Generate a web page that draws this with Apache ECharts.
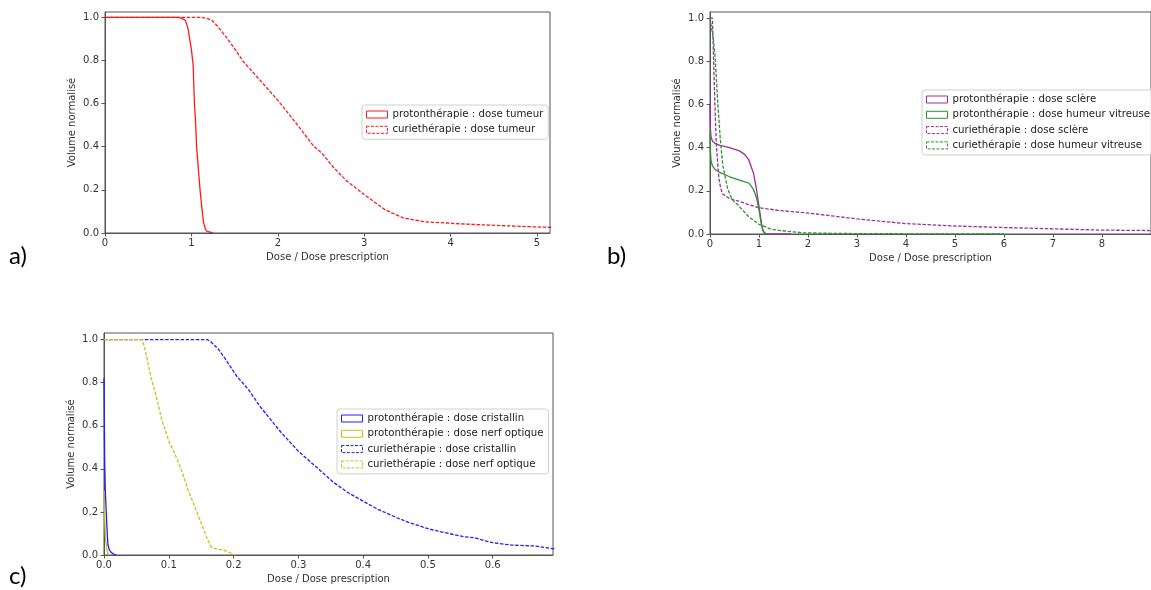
<!DOCTYPE html>
<html><head><meta charset="utf-8">
<script src="https://cdn.jsdelivr.net/npm/echarts@6/dist/echarts.min.js"></script>
<style>html,body{margin:0;padding:0;background:#fff}#c{width:1151px;height:590px}</style>
</head><body><div id="c"></div><script>
// ---------- Panel a) : tumeur ----------
const aProtonTumeurX = [0, 0.85, 0.89, 0.93, 0.96, 0.98, 1.0, 1.02, 1.035, 1.05, 1.06, 1.08, 1.1, 1.12, 1.14, 1.16, 1.18, 1.2, 1.25];
const aProtonTumeurY = [1, 1, 0.995, 0.985, 0.95, 0.9, 0.85, 0.78, 0.6, 0.5, 0.4, 0.3, 0.2, 0.12, 0.05, 0.02, 0.007, 0.002, 0];
const aCurieTumeurX = [0, 1.12, 1.18, 1.24, 1.3, 1.4, 1.5, 1.6, 1.78, 2.0, 2.21, 2.42, 2.51, 2.64, 2.79, 3.0, 3.24, 3.45, 3.7, 4.0, 4.35, 5.0, 5.2];
const aCurieTumeurY = [1, 1, 0.995, 0.985, 0.96, 0.91, 0.855, 0.795, 0.715, 0.615, 0.51, 0.4, 0.37, 0.306, 0.244, 0.178, 0.108, 0.07, 0.052, 0.045, 0.038, 0.028, 0.026];
const aXTicks = [0, 1, 2, 3, 4, 5];

// ---------- Panel b) : sclère / humeur vitreuse ----------
const bProtonSclereX = [0, 0.005, 0.02, 0.05, 0.1, 0.2, 0.4, 0.6, 0.7, 0.79, 0.89, 0.95, 1.0, 1.05, 1.08, 1.11, 1.16, 1.65];
const bProtonSclereY = [0.6, 0.5, 0.45, 0.43, 0.42, 0.41, 0.4, 0.385, 0.37, 0.344, 0.28, 0.205, 0.128, 0.05, 0.02, 0.005, 0, 0];
const bProtonVitreuseX = [0, 0.005, 0.02, 0.05, 0.1, 0.2, 0.4, 0.6, 0.8, 0.89, 0.95, 1.0, 1.05, 1.08, 1.11, 1.16, 1.2];
const bProtonVitreuseY = [0.48, 0.4, 0.34, 0.315, 0.3, 0.285, 0.265, 0.25, 0.235, 0.205, 0.167, 0.112, 0.043, 0.015, 0.005, 0, 0];
const bCurieSclereX = [0, 0.05, 0.08, 0.1, 0.13, 0.18, 0.22, 0.26, 0.39, 0.59, 0.8, 1.0, 1.37, 2, 3, 4, 5, 6, 7, 8, 9];
const bCurieSclereY = [1, 1, 0.75, 0.6, 0.41, 0.26, 0.21, 0.185, 0.165, 0.152, 0.135, 0.122, 0.11, 0.097, 0.07, 0.048, 0.037, 0.03, 0.024, 0.018, 0.016];
const bCurieVitreuseX = [0, 0.033, 0.07, 0.1, 0.13, 0.16, 0.21, 0.26, 0.36, 0.45, 0.59, 0.79, 1.0, 1.25, 1.58, 1.9, 2.5, 3, 4, 5, 6];
const bCurieVitreuseY = [1, 1, 0.9, 0.83, 0.72, 0.6, 0.44, 0.32, 0.21, 0.16, 0.13, 0.08, 0.045, 0.022, 0.012, 0.006, 0.003, 0.002, 0.001, 0.0005, 0];
const bXTicks = [0, 1, 2, 3, 4, 5, 6, 7, 8];

// ---------- Panel c) : cristallin / nerf optique ----------
const cProtonCristallinX = [0, 0.0005, 0.001, 0.002, 0.0036, 0.005, 0.006, 0.008, 0.011, 0.014, 0.016, 0.019];
const cProtonCristallinY = [0.82, 0.65, 0.45, 0.3, 0.19, 0.1, 0.05, 0.025, 0.012, 0.005, 0.002, 0];
const cProtonNerfX = [0, 0.001, 0.002, 0.003, 0.004, 0.005, 0.006, 0.008];
const cProtonNerfY = [0.3, 0.18, 0.1, 0.06, 0.035, 0.018, 0.008, 0];
const cCurieCristallinX = [0, 0.16, 0.165, 0.177, 0.188, 0.205, 0.223, 0.242, 0.274, 0.3, 0.326, 0.354, 0.377, 0.4, 0.423, 0.452, 0.469, 0.5, 0.526, 0.555, 0.572, 0.583, 0.6, 0.629, 0.663, 0.695, 0.7];
const cCurieCristallinY = [1, 1, 0.99, 0.954, 0.907, 0.83, 0.768, 0.685, 0.567, 0.482, 0.413, 0.338, 0.289, 0.25, 0.212, 0.173, 0.153, 0.122, 0.104, 0.085, 0.08, 0.07, 0.057, 0.046, 0.042, 0.029, 0.028];
const cCurieNerfX = [0, 0.059, 0.062, 0.066, 0.072, 0.08, 0.089, 0.1, 0.11, 0.12, 0.13, 0.14, 0.151, 0.16, 0.166, 0.175, 0.183, 0.191, 0.2, 0.203];
const cCurieNerfY = [1, 1, 0.97, 0.92, 0.83, 0.745, 0.63, 0.53, 0.465, 0.39, 0.3, 0.225, 0.14, 0.07, 0.035, 0.027, 0.025, 0.015, 0.003, 0];
const cXTicks = [0, 0.1, 0.2, 0.3, 0.4, 0.5, 0.6];

const yTicks = [0, 0.2, 0.4, 0.6, 0.8, 1.0];
const xAxisTitle = 'Dose / Dose prescription';
const yAxisTitle = 'Volume normalisé';
const panelLabels = ['a)', 'b)', 'c)'];

// ---------- styles ----------
const FONT = 'DejaVu Sans';
const SPINE = '#555';
const RED = '#ff1a1a', PURPLE = '#9a2fa0', GREEN = '#2a952a', BLUE = '#1f1fff', OLIVE = '#c4c41e';
const DASH = [3.5, 1.6];
const TICK_FS = 10, LEG_FS = 10.2;

function pairs(xs, ys) { return xs.map((x, i) => [x, ys[i]]); }

function xAxis(gi, max, ticks, digits) {
  return {
    type: 'value', gridIndex: gi, min: 0, max: max,
    axisLine: { show: true, onZero: false, lineStyle: { color: SPINE, width: 1 } },
    axisTick: { show: true, length: 3.5, customValues: ticks, lineStyle: { color: SPINE } },
    axisLabel: { customValues: ticks, formatter: v => v.toFixed(digits), fontSize: TICK_FS, color: '#333', margin: 5, fontFamily: FONT },
    splitLine: { show: false },
    name: xAxisTitle, nameLocation: 'middle', nameGap: 19,
    nameTextStyle: { fontSize: TICK_FS, color: '#333', fontFamily: FONT }
  };
}
function yAxis(gi, max) {
  return {
    type: 'value', gridIndex: gi, min: 0, max: max,
    axisLine: { show: true, onZero: false, lineStyle: { color: SPINE, width: 1 } },
    axisTick: { show: true, length: 3.5, customValues: yTicks, lineStyle: { color: SPINE } },
    axisLabel: { customValues: yTicks, formatter: v => v.toFixed(1), fontSize: TICK_FS, color: '#333', margin: 6, fontFamily: FONT },
    splitLine: { show: false },
    name: yAxisTitle, nameLocation: 'middle', nameGap: 28,
    nameTextStyle: { fontSize: TICK_FS, color: '#333', fontFamily: FONT }
  };
}
function line(name, gi, xs, ys, color, dashed) {
  return {
    type: 'line', name: name, xAxisIndex: gi, yAxisIndex: gi,
    data: pairs(xs, ys), showSymbol: false, symbol: 'none', silent: true,
    lineStyle: { color: color, width: 1.3, type: dashed ? DASH : 'solid' },
    itemStyle: { color: color }
  };
}
function legendItem(name, color, dashed) {
  return { name: name, icon: 'rect',
    itemStyle: { color: 'rgba(0,0,0,0)', borderColor: color, borderWidth: 1, borderType: dashed ? [3, 1.5] : 'solid' } };
}
function legend(left, top, items) {
  return {
    left: left, top: top, orient: 'vertical', selectedMode: false,
    itemWidth: 21, itemHeight: 7, itemGap: 3.3,
    padding: [3.5, 5, 3.5, 4],
    backgroundColor: 'rgba(255,255,255,0.8)', borderColor: '#d0d0d0', borderWidth: 1, borderRadius: 3,
    textStyle: { fontSize: LEG_FS, lineHeight: 12, color: '#222', fontFamily: FONT },
    data: items
  };
}

const names = {
  aP: 'protonthérapie : dose tumeur', aC: 'curiethérapie : dose tumeur',
  bPS: 'protonthérapie : dose sclère', bPV: 'protonthérapie : dose humeur vitreuse',
  bCS: 'curiethérapie : dose sclère', bCV: 'curiethérapie : dose humeur vitreuse',
  cPC: 'protonthérapie : dose cristallin', cPN: 'protonthérapie : dose nerf optique',
  cCC: 'curiethérapie : dose cristallin', cCN: 'curiethérapie : dose nerf optique'
};

const gridStyle = { show: true, borderColor: SPINE, borderWidth: 1, backgroundColor: '#fff' };

const option = {
  animation: false,
  backgroundColor: '#fff',
  grid: [
    Object.assign({ left: 105, top: 12, width: 445, height: 221 }, gridStyle),
    Object.assign({ left: 710, top: 12, width: 456, height: 222 }, gridStyle),
    Object.assign({ left: 104, top: 333, width: 449, height: 222 }, gridStyle)
  ],
  xAxis: [xAxis(0, 5.15, aXTicks, 0), xAxis(1, 9.0, bXTicks, 0), xAxis(2, 0.693, cXTicks, 1)],
  yAxis: [yAxis(0, 1.0246), yAxis(1, 1.028), yAxis(2, 1.031)],
  legend: [
    legend(362, 105, [legendItem(names.aP, RED, false), legendItem(names.aC, RED, true)]),
    legend(922, 90, [legendItem(names.bPS, PURPLE, false), legendItem(names.bPV, GREEN, false),
                     legendItem(names.bCS, PURPLE, true), legendItem(names.bCV, GREEN, true)]),
    legend(337, 409, [legendItem(names.cPC, BLUE, false), legendItem(names.cPN, OLIVE, false),
                      legendItem(names.cCC, BLUE, true), legendItem(names.cCN, OLIVE, true)])
  ],
  series: [
    line(names.aP, 0, aProtonTumeurX, aProtonTumeurY, RED, false),
    line(names.aC, 0, aCurieTumeurX, aCurieTumeurY, RED, true),
    line(names.bPS, 1, bProtonSclereX, bProtonSclereY, PURPLE, false),
    line(names.bPV, 1, bProtonVitreuseX, bProtonVitreuseY, GREEN, false),
    line(names.bCS, 1, bCurieSclereX, bCurieSclereY, PURPLE, true),
    line(names.bCV, 1, bCurieVitreuseX, bCurieVitreuseY, GREEN, true),
    line(names.cPC, 2, cProtonCristallinX, cProtonCristallinY, BLUE, false),
    line(names.cPN, 2, cProtonNerfX, cProtonNerfY, OLIVE, false),
    line(names.cCC, 2, cCurieCristallinX, cCurieCristallinY, BLUE, true),
    line(names.cCN, 2, cCurieNerfX, cCurieNerfY, OLIVE, true)
  ],
  graphic: [
    { type: 'text', left: 9, top: 244, style: { text: panelLabels[0], fontSize: 24, fontFamily: 'Lato', fill: '#000' } },
    { type: 'text', left: 607, top: 244, style: { text: panelLabels[1], fontSize: 24, fontFamily: 'Lato', fill: '#000' } },
    { type: 'text', left: 9, top: 564, style: { text: panelLabels[2], fontSize: 24, fontFamily: 'Lato', fill: '#000' } }
  ]
};

const chart = echarts.init(document.getElementById('c'), null, { renderer: 'canvas' });
chart.setOption(option);
</script></body></html>
